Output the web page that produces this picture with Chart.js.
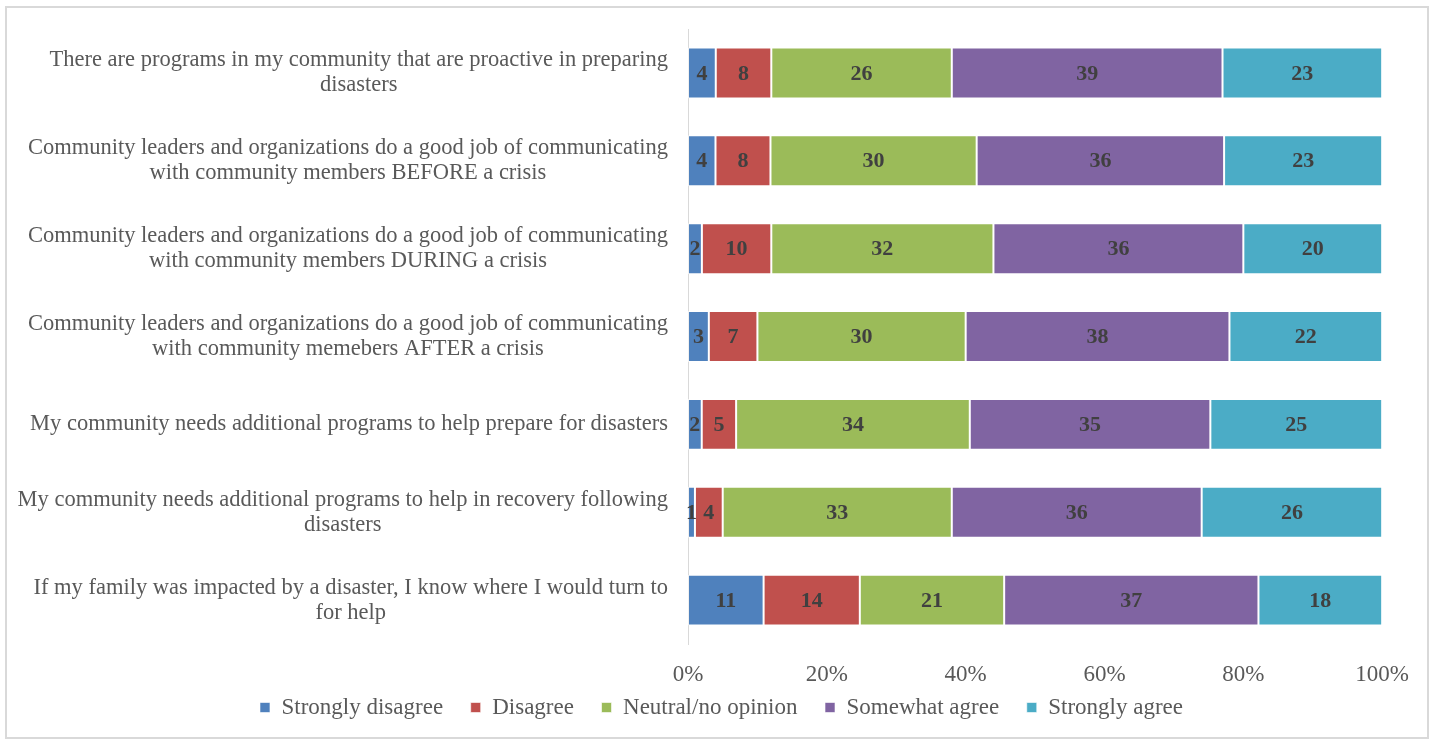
<!DOCTYPE html>
<html>
<head>
<meta charset="utf-8">
<script src="https://cdn.jsdelivr.net/npm/chart.js@4"></script>
<style>
  html, body { margin: 0; padding: 0; background: #fff; }
  #wrap { width: 1434px; height: 740px; }
</style>
</head>
<body>
<div id="wrap"><canvas id="chart1" width="1434" height="740"></canvas></div>
<script>
// statements, each wrapped the way it is printed beside the bars
var statements = [
  ["There are programs in my community that are proactive in preparing", "disasters"],
  ["Community leaders and organizations do a good job of communicating", "with community members BEFORE a crisis"],
  ["Community leaders and organizations do a good job of communicating", "with community members DURING a crisis"],
  ["Community leaders and organizations do a good job of communicating", "with community memebers AFTER a crisis"],
  ["My community needs additional programs to help prepare for disasters"],
  ["My community needs additional programs to help in recovery following", "disasters"],
  ["If my family was impacted by a disaster, I know where I would turn to", "for help"]
];

var responses = ["Strongly disagree", "Disagree", "Neutral/no opinion", "Somewhat agree", "Strongly agree"];

// percent of respondents per statement
var stronglyDisagree = [4, 4, 2, 3, 2, 1, 11];
var disagree         = [8, 8, 10, 7, 5, 4, 14];
var neutral          = [26, 30, 32, 30, 34, 33, 21];
var somewhatAgree    = [39, 36, 36, 38, 35, 36, 37];
var stronglyAgree    = [23, 23, 20, 22, 25, 26, 18];

var xTicks = [0, 20, 40, 60, 80, 100];

var colors = ['#4F81BD', '#C0504D', '#9BBB59', '#8064A2', '#4BACC6'];
var series = [stronglyDisagree, disagree, neutral, somewhatAgree, stronglyAgree];

// 100% stacked: scale each row by its total
var totals = statements.map(function (s, i) {
  return series.reduce(function (sum, arr) { return sum + arr[i]; }, 0);
});

var datasets = series.map(function (arr, k) {
  return {
    label: responses[k],
    raw: arr,
    data: arr.map(function (v, i) { return v / totals[i] * 100; }),
    backgroundColor: colors[k],
    borderColor: 'rgba(255,255,255,0.6)',
    borderWidth: 1,
    borderSkipped: false,
    categoryPercentage: 1,
    barPercentage: 0.58
  };
});

var SERIF = '"Liberation Serif", "DejaVu Serif", serif';

// category text: lines centred within each block, block right-aligned to the axis
var statementLabels = {
  id: 'statementLabels',
  afterDraw: function (chart) {
    var c = chart.ctx, y = chart.scales.y;
    c.save();
    c.font = '22.5px ' + SERIF;
    c.fillStyle = '#595959';
    c.textBaseline = 'middle';
    c.textAlign = 'center';
    var right = chart.chartArea.left - 20, lh = 25;
    statements.forEach(function (lines, i) {
      var mid = y.getPixelForTick(i);
      var w = Math.max.apply(null, lines.map(function (l) { return c.measureText(l).width; }));
      var cx = right - w / 2;
      var top = mid - (lines.length - 1) * lh / 2;
      lines.forEach(function (l, j) { c.fillText(l, cx, top + j * lh); });
    });
    c.restore();
  }
};

// numbers in the middle of each segment
var segmentValues = {
  id: 'segmentValues',
  afterDatasetsDraw: function (chart) {
    var c = chart.ctx;
    c.save();
    c.font = 'bold 22px ' + SERIF;
    c.fillStyle = '#404040';
    c.textAlign = 'center';
    c.textBaseline = 'middle';
    chart.data.datasets.forEach(function (ds, k) {
      chart.getDatasetMeta(k).data.forEach(function (bar, i) {
        var p = bar.getCenterPoint();
        c.fillText(ds.raw[i], p.x, p.y + 1);
      });
    });
    c.restore();
  }
};

// light frame round the whole chart
var frame = {
  id: 'frame',
  beforeDraw: function (chart) {
    var c = chart.ctx;
    c.save();
    c.strokeStyle = '#D9D9D9';
    c.lineWidth = 2;
    c.strokeRect(6, 7, chart.width - 12, chart.height - 9);
    c.restore();
  }
};

var ctx = document.getElementById('chart1').getContext('2d');
var chart = new Chart(ctx, {
  type: 'bar',
  data: {
    labels: statements.map(function (s) { return s.join(' '); }),
    datasets: datasets
  },
  options: {
    indexAxis: 'y',
    responsive: false,
    animation: false,
    layout: { padding: { left: 60, right: 51, top: 29, bottom: 11 } },
    scales: {
      x: {
        stacked: true,
        min: 0,
        max: 100,
        afterBuildTicks: function (scale) {
          scale.ticks = xTicks.map(function (v) { return { value: v }; });
        },
        afterFit: function (scale) { scale.height -= 10; },
        grid: { display: false, drawTicks: false },
        border: { display: false },
        ticks: {
          padding: 25,
          color: '#595959',
          font: { family: SERIF, size: 23, lineHeight: 0.52 },
          callback: function (v) { return v + '%'; }
        }
      },
      y: {
        stacked: true,
        grid: { display: false, drawTicks: false },
        border: { display: true, color: '#D9D9D9', width: 1 },
        ticks: { display: false },
        afterFit: function (scale) { scale.width = 628; }
      }
    },
    plugins: {
      legend: {
        position: 'bottom',
        labels: {
          boxWidth: 10,
          boxHeight: 10,
          padding: 0,
          color: '#595959',
          font: { family: SERIF, size: 23 },
          generateLabels: function (chart) {
            var items = Chart.defaults.plugins.legend.labels.generateLabels(chart);
            // wider gaps between entries
            items.forEach(function (it, i) {
              if (i < items.length - 1) it.text += '\u2003\u2009';
            });
            return items;
          }
        }
      },
      tooltip: { enabled: false }
    }
  },
  plugins: [frame, statementLabels, segmentValues]
});
</script>
</body>
</html>
